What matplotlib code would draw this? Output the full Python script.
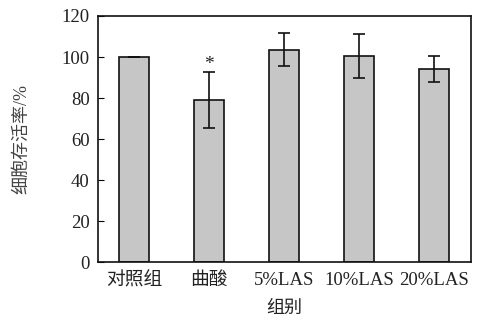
import matplotlib
matplotlib.use("Agg")
import matplotlib.pyplot as plt

plt.rcParams['font.family'] = ['Liberation Serif', 'Noto Sans CJK SC']

groups = ["对照组", "曲酸", "5%LAS", "10%LAS", "20%LAS"]
viability = [100, 79, 103.5, 100.5, 94.2]
err = [0, 13.7, 8.0, 10.7, 6.3]
yticks = [0, 20, 40, 60, 80, 100, 120]

TXT = "#222222"

fig = plt.figure(figsize=(4.78, 3.20), dpi=100)
ax = fig.add_axes([0.205, 0.181, 0.780, 0.769])

x = range(len(groups))
ax.bar(x, viability, width=0.4, color="#c6c6c6", edgecolor="#111111", lw=1.2,
       yerr=err, error_kw=dict(ecolor="#111111", elinewidth=1.2, capsize=4, capthick=1.2))
ax.text(1, 96.5, "*", ha="center", va="center", fontsize=14, color=TXT)

ax.set_xlim(-0.48, 4.49)
ax.set_ylim(0, 120)
ax.set_yticks(yticks)
ax.set_xticks(list(x))
ax.set_xticklabels(groups, fontsize=13.5, color=TXT)
ax.tick_params(axis="y", direction="in", length=4, labelsize=13.5, labelcolor=TXT, pad=6)
ax.tick_params(axis="x", length=0, pad=7)
for s in ax.spines.values():
    s.set_linewidth(1.2)
    s.set_color("#111111")

ax.set_xlabel("组别", fontsize=13, color=TXT, labelpad=8)
fig.text(22 / 478, 1 - 139 / 320, "细胞存活率/%", rotation=90, ha="center",
         va="center", fontsize=13, color="#444444")

fig.savefig("out.png", dpi=100, facecolor="white")
